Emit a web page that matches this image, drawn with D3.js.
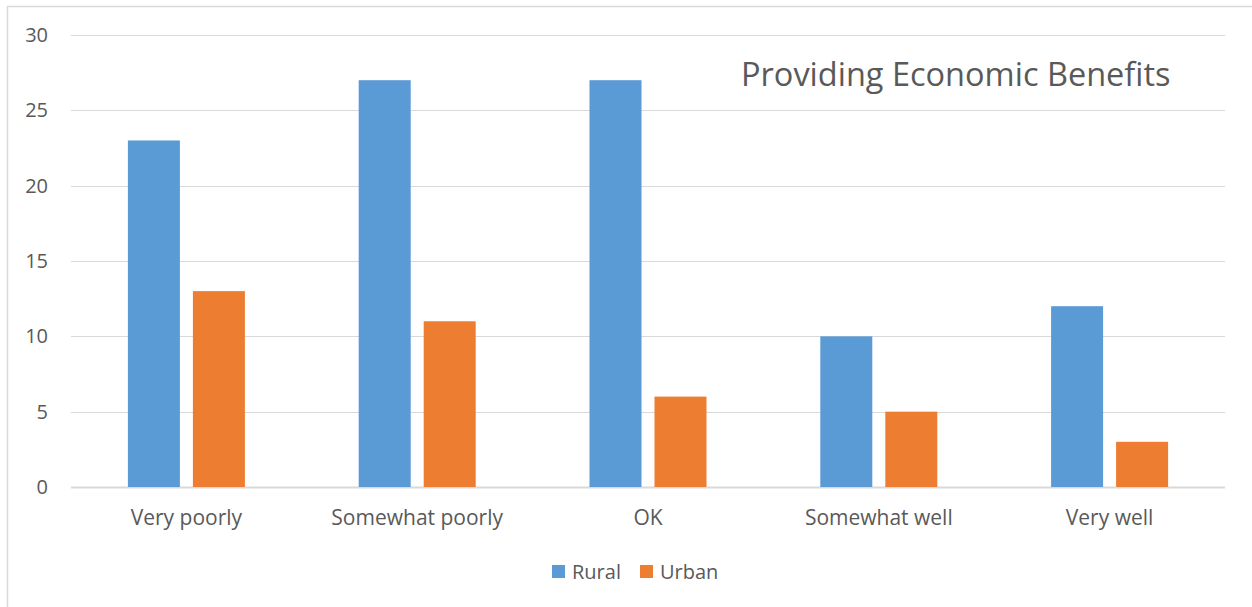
<!DOCTYPE html>
<html>
<head>
  <meta charset="utf-8">
  <script src="https://d3js.org/d3.v7.min.js"></script>
  <style>
    body { margin: 0; background: #fff; }
    svg { font-family: "Open Sans", sans-serif; }
  </style>
</head>
<body>
  <svg width="1252" height="607"></svg>
  <script>
    // data
    let categories = ["Very poorly", "Somewhat poorly", "OK", "Somewhat well", "Very well"];
    let seriesNames = ["Rural", "Urban"];
    let rural = [23, 27, 27, 10, 12];
    let urban = [13, 11, 6, 5, 3];
    let yTicks = [0, 5, 10, 15, 20, 25, 30];
    let colors = ["#5B9BD5", "#ED7D31"];
    let title = "Providing Economic Benefits";

    let svg = d3.select("svg");
    let textColor = "#595959";
    let gridColor = "#D9D9D9";

    // outer chart border (clipped on right/bottom like the reference)
    svg.append("rect")
      .attr("x", 7.5).attr("y", 6.5)
      .attr("width", 1260).attr("height", 620)
      .attr("fill", "none")
      .attr("stroke", gridColor)
      .attr("stroke-width", 1.5);

    let plot = { left: 71, right: 1225, top: 35, bottom: 487 };

    let y = d3.scaleLinear().domain([0, 30]).range([plot.bottom, plot.top]);
    let x0 = d3.scaleBand().domain(categories)
      .range([plot.left, plot.right])
      .paddingInner(0.493).paddingOuter(0.2465);
    let x1 = d3.scaleBand().domain(seriesNames)
      .range([0, x0.bandwidth()])
      .paddingInner(0.2);

    // gridlines
    svg.append("g").selectAll("line")
      .data(yTicks)
      .join("line")
      .attr("x1", plot.left).attr("x2", plot.right)
      .attr("y1", d => Math.round(y(d)) + 0.5)
      .attr("y2", d => Math.round(y(d)) + 0.5)
      .attr("stroke", gridColor)
      .attr("stroke-width", d => d === 0 ? 2 : 1.2);

    // y tick labels
    svg.append("g").selectAll("text")
      .data(yTicks)
      .join("text")
      .attr("x", 48)
      .attr("y", d => y(d))
      .attr("dy", "0.35em")
      .attr("text-anchor", "end")
      .attr("fill", textColor)
      .style("font-size", "20px")
      .text(d => d);

    // bars
    let rows = categories.map((c, i) => ({ cat: c, vals: [rural[i], urban[i]] }));
    let groups = svg.append("g").selectAll("g")
      .data(rows)
      .join("g")
      .attr("transform", d => `translate(${x0(d.cat)},0)`);

    groups.selectAll("rect")
      .data(d => d.vals.map((v, j) => ({ name: seriesNames[j], v: v, j: j })))
      .join("rect")
      .attr("x", d => x1(d.name))
      .attr("width", x1.bandwidth())
      .attr("y", d => y(d.v))
      .attr("height", d => y(0) - y(d.v))
      .attr("fill", d => colors[d.j]);

    // category labels
    svg.append("g").selectAll("text")
      .data(categories)
      .join("text")
      .attr("x", d => x0(d) + x0.bandwidth() / 2)
      .attr("y", 525)
      .attr("text-anchor", "middle")
      .attr("fill", textColor)
      .style("font-size", "21px")
      .text(d => d);

    // title
    svg.append("text")
      .attr("x", 741)
      .attr("y", 86)
      .attr("fill", textColor)
      .style("font-size", "32.5px")
      .text(title);

    // legend
    let legendX = [552, 640];
    let legend = svg.append("g").selectAll("g")
      .data(seriesNames)
      .join("g")
      .attr("transform", (d, i) => `translate(${legendX[i]},565)`);
    legend.append("rect")
      .attr("width", 13).attr("height", 13)
      .attr("fill", (d, i) => colors[i]);
    legend.append("text")
      .attr("x", 20).attr("y", 7)
      .attr("dy", "0.35em")
      .attr("fill", textColor)
      .style("font-size", "20px")
      .text(d => d);
  </script>
</body>
</html>
